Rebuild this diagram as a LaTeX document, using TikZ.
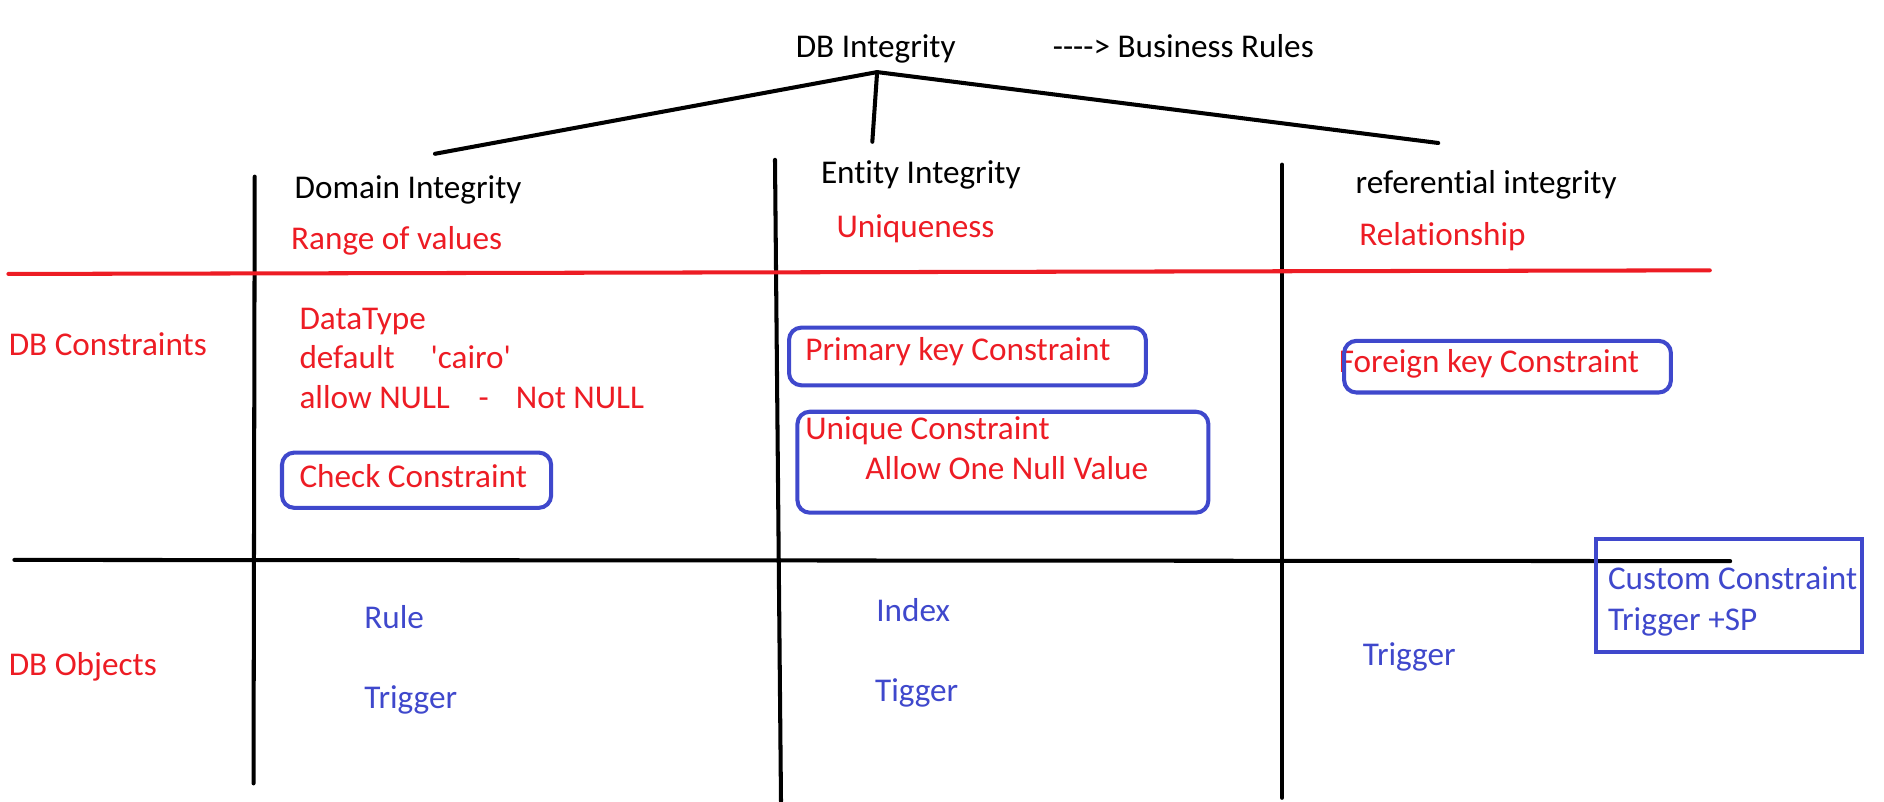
\documentclass[tikz,border=0pt]{standalone}
\usepackage{fontspec}
\setmainfont{Carlito}[Ligatures={TeXOff,CommonOff}]
\definecolor{paintred}{RGB}{237,28,36}
\definecolor{paintblue}{RGB}{63,72,204}
\newcommand{\pxlen}{0.024031cm}

\begin{document}
\begin{tikzpicture}[x=0.024031cm, y=-0.024031cm,
		nodes={anchor=base west, inner sep=0pt, font=\fontsize{18.9}{22}\selectfont},
		redtxt/.style={text=paintred},
		bluetxt/.style={text=paintblue},
		rule/.style={line width=2.3pt, line cap=round},
		conbox/.style={draw=paintblue, line width=2.3pt, rounded corners=7pt, anchor=north west}]
		\useasboundingbox (0,0) rectangle (1568,667.48);
		% grid of the table
		\draw[rule] (212,147) -- (211,652);
		\draw[rule] (645,133) -- (650,667);
		\draw[rule] (1067,137) -- (1067,664);
		\draw[rule, paintred] (7,228) -- (1423,225);
		% tree
		\node (dbi) at (662,48) {DB Integrity};
		\node (br) at (876,48) {---->  Business Rules};
		\coordinate (apex) at (730,60);
		\coordinate (domtop) at (362,128);
		\coordinate (enttop) at (726,118);
		\coordinate (reftop) at (1197,119);
		\draw[rule] (apex) -- (domtop);
		\draw[rule] (apex) -- (enttop);
		\draw[rule] (apex) -- (reftop);
		% headings
		\node (dom) at (245,165) {Domain Integrity};
		\node (rng) [redtxt] at (242,208) {Range of values};
		\node (ent) at (683,153) {Entity Integrity};
		\node (uniq) [redtxt] at (696,198) {Uniqueness};
		\node (ref) at (1128,161) {referential integrity};
		\node (rel) [redtxt] at (1131,204) {Relationship};
		% constraints
		\node (dbc) [redtxt] at (7,296) {DB Constraints};
		\node (dtype) [redtxt] at (249,274) {DataType};
		\node (dflt) [redtxt] at (249,307) {default};
		\node (cairo) [redtxt] at (358,307) {'cairo'};
		\node (anull) [redtxt] at (249,340) {allow NULL};
		\node (dash) [redtxt] at (398,340) {-};
		\node (nnull) [redtxt] at (429,340) {Not NULL};
		\node (chk) [redtxt] at (249,406) {Check Constraint};
		\node (pk) [redtxt] at (670,300) {Primary key Constraint};
		\node (uq) [redtxt] at (670,366) {Unique Constraint};
		\node (onenull) [redtxt] at (720,399) {Allow One Null Value};
		\node (fk) [redtxt] at (1114,310) {Foreign key Constraint};
		\node (chkbox) [conbox, minimum width=224*\pxlen, minimum height=46*\pxlen] at (233,375) {};
		\node (pkbox) [conbox, minimum width=297*\pxlen, minimum height=48*\pxlen] at (655,271) {};
		\node (uqbox) [conbox, minimum width=342*\pxlen, minimum height=84*\pxlen] at (662,341) {};
		\node (fkbox) [conbox, minimum width=272*\pxlen, minimum height=43*\pxlen] at (1117,282) {};
		% objects
		\draw[rule] (12,466) -- (1440,467);
		\node (cusbox) [conbox, rounded corners=0pt, minimum width=221*\pxlen, minimum height=94*\pxlen] at (1327,447) {};
		\node (cus) [bluetxt] at (1338,491) {Custom Constraint};
		\node (trsp) [bluetxt] at (1338,525) {Trigger +SP};
		\node (dbo) [redtxt] at (7,562) {DB Objects};
		\node (rule1) [bluetxt] at (303,523) {Rule};
		\node (trig1) [bluetxt] at (303,590) {Trigger};
		\node (idx) [bluetxt] at (729,517) {Index};
		\node (trig2) [bluetxt] at (728,584) {Tigger};
		\node (trig3) [bluetxt] at (1134,554) {Trigger};
\end{tikzpicture}
\end{document}
